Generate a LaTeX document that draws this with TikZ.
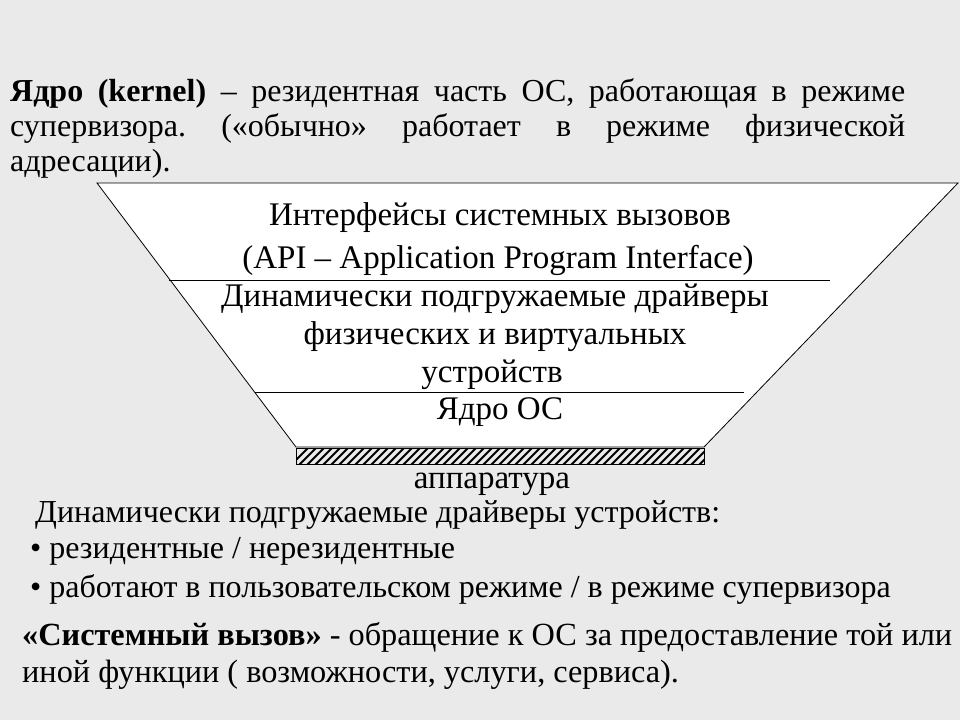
\documentclass[tikz,border=0pt]{standalone}
\usepackage{fontspec}
\setmainfont{Liberation Serif}
\frenchspacing
\begin{document}
\begin{tikzpicture}[x=1pt,y=-1pt,
  txt/.style={inner sep=0pt,font=\fontsize{33}{38}\selectfont}]
\useasboundingbox[fill={rgb,255:red,234;green,234;blue,234}] (0,0) rectangle (960,720);
\fill[white,draw=black,line width=0.8] (97,183) coordinate (tl) -- (958,183) coordinate (tr) -- (704,447) coordinate (br) -- (296,447) coordinate (bl) -- cycle;
\draw[line width=0.8] (169,280) -- (830,280);
\draw[line width=0.8] (255,392) -- (744,392);
\begin{scope}
\clip (296,448) rectangle (704,464);
\foreach \i in {0,8,...,430} \draw[line width=2] (288+\i,468) -- (312+\i,444);
\end{scope}
\draw[line width=1] (296,448) rectangle (704,464);
\node[txt,anchor=north west,text width=895pt,align=justify,font=\fontsize{32}{35}\selectfont] (p1) at (10,78) {\textbf{Ядро (kernel)} – резидентная часть ОС, работающая в режиме\linebreak супервизора. («обычно» работает в режиме физической\linebreak адресации).\par};
\node[txt] (a1) at (500,218) {Интерфейсы системных вызовов};
\node[txt] (a2) at (498,260) {(API – Application Program Interface)};
\node[txt] (d1) at (495,299) {Динамически подгружаемые драйверы};
\node[txt] (d2) at (495,337) {физических и виртуальных};
\node[txt] (d3) at (492,375) {устройств};
\node[txt] (k) at (500,412) {Ядро ОС};
\node[txt] (h) at (492,484) {аппаратура};
\begin{scope}[txt/.append style={font=\fontsize{32}{38}\selectfont}]
\node[txt,anchor=west] (l0) at (35,515) {Динамически подгружаемые драйверы устройств:};
\node[txt,anchor=west] (l1) at (30,551) {• резидентные / нерезидентные};
\node[txt,anchor=west] (l2) at (30,589) {• работают в пользовательском режиме / в режиме супервизора};
\end{scope}
\node[txt,anchor=north west,align=left,font=\fontsize{32.3}{37}\selectfont] (p2) at (22,622) {\textbf{«Системный вызов»} - обращение к ОС за предоставление той или\\иной функции ( возможности, услуги, сервиса).\par};
\end{tikzpicture}
\end{document}
